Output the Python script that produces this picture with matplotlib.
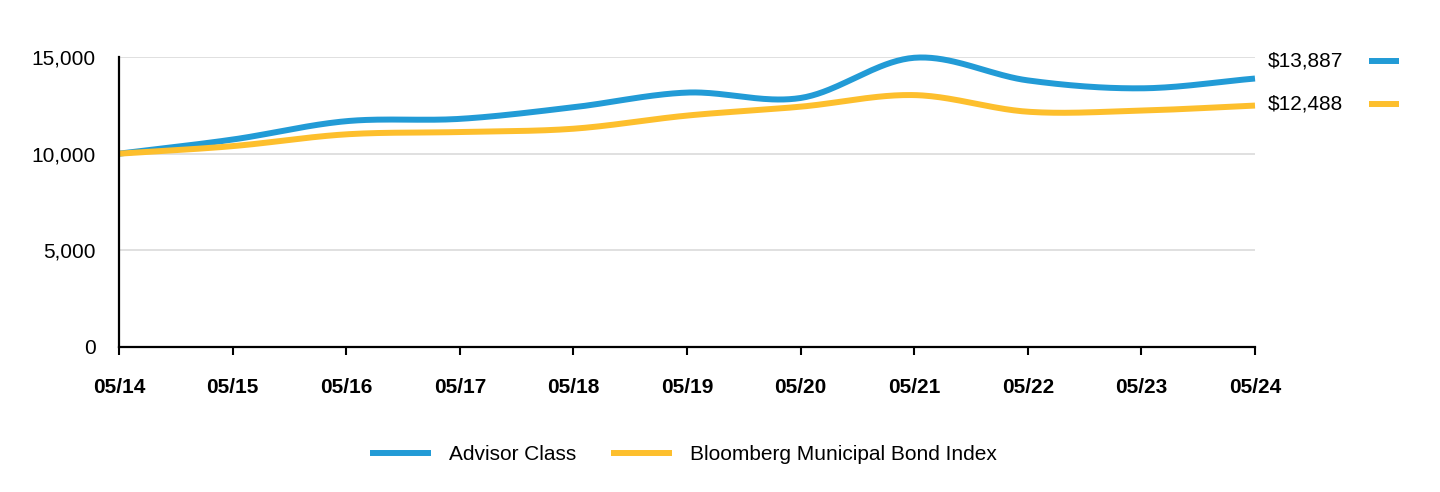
import numpy as np
import matplotlib.pyplot as plt
from matplotlib.ticker import FuncFormatter

plt.rcParams['font.family'] = ['Liberation Sans', 'DejaVu Sans']

# Данi
dates = ['05/14', '05/15', '05/16', '05/17', '05/18', '05/19',
         '05/20', '05/21', '05/22', '05/23', '05/24']
advisor = [10000, 10730, 11680, 11800, 12400, 13160, 12880, 14960, 13790, 13380, 13887]
index = [10000, 10390, 11000, 11120, 11290, 11970, 12430, 13030, 12170, 12230, 12488]
names = ['Advisor Class', 'Bloomberg Municipal Bond Index']
end_labels = ['$13,887', '$12,488']
colors = ['#229bd6', '#fdbf2d']


def smooth(y, n=40):
    # кардинальний сплайн (Catmull-Rom) для плавної лiнiї
    y = np.asarray(y, float)
    k = len(y)
    m = np.zeros(k)
    m[1:-1] = (y[2:] - y[:-2]) / 2
    m[0] = y[1] - y[0]
    m[-1] = y[-1] - y[-2]
    xs, ys = [], []
    for i in range(k - 1):
        t = np.linspace(0, 1, n, endpoint=(i == k - 2))
        h00 = 2 * t**3 - 3 * t**2 + 1
        h10 = t**3 - 2 * t**2 + t
        h01 = -2 * t**3 + 3 * t**2
        h11 = t**3 - t**2
        xs.append(i + t)
        ys.append(h00 * y[i] + h10 * m[i] + h01 * y[i + 1] + h11 * m[i + 1])
    return np.concatenate(xs), np.concatenate(ys)


fig = plt.figure(figsize=(14.4, 4.92), dpi=100)
ax = fig.add_axes([119 / 1440, 1 - 347 / 492, (1255 - 119) / 1440, (347 - 57) / 492])

x = np.arange(len(dates))
for vals, col, nm in zip([advisor, index], colors, names):
    xs, ys = smooth(vals)
    ax.plot(xs, ys, color=col, lw=4.3, label=nm, clip_on=False, solid_capstyle='butt')

ax.set_xlim(0, len(dates) - 1)
ax.set_ylim(0, 15000)
ax.set_yticks([0, 5000, 10000, 15000])
ax.yaxis.set_major_formatter(FuncFormatter(lambda v, p: f'{int(v):,}'))
ax.set_xticks(x)
ax.set_xticklabels(dates, fontweight='bold', fontsize=15)
ax.tick_params(axis='y', length=0, labelsize=15, pad=17)
ax.tick_params(axis='x', length=6, width=1.5, pad=16.5)
ax.grid(axis='y', color='#dddddd', lw=1.3)
ax.set_axisbelow(True)
for s in ['top', 'right']:
    ax.spines[s].set_visible(False)
for s in ['left', 'bottom']:
    ax.spines[s].set_linewidth(1.6)

# пiдписи кiнцевих значень
for lab, yy, col in zip(end_labels, [61, 104], colors):
    fig.text(1268 / 1440, 1 - yy / 492, lab, fontsize=15, va='center', ha='left')
    fig.add_artist(plt.Line2D([1369 / 1440, 1399 / 1440], [1 - yy / 492] * 2,
                              color=col, lw=4.3, solid_capstyle='butt'))

fig.legend(loc='center', bbox_to_anchor=(0.4746, 1 - 455 / 492), ncol=2, frameon=False,
           fontsize=15, handlelength=2.93, columnspacing=1.68, handletextpad=0.87)

plt.savefig('out.png', dpi=100)
